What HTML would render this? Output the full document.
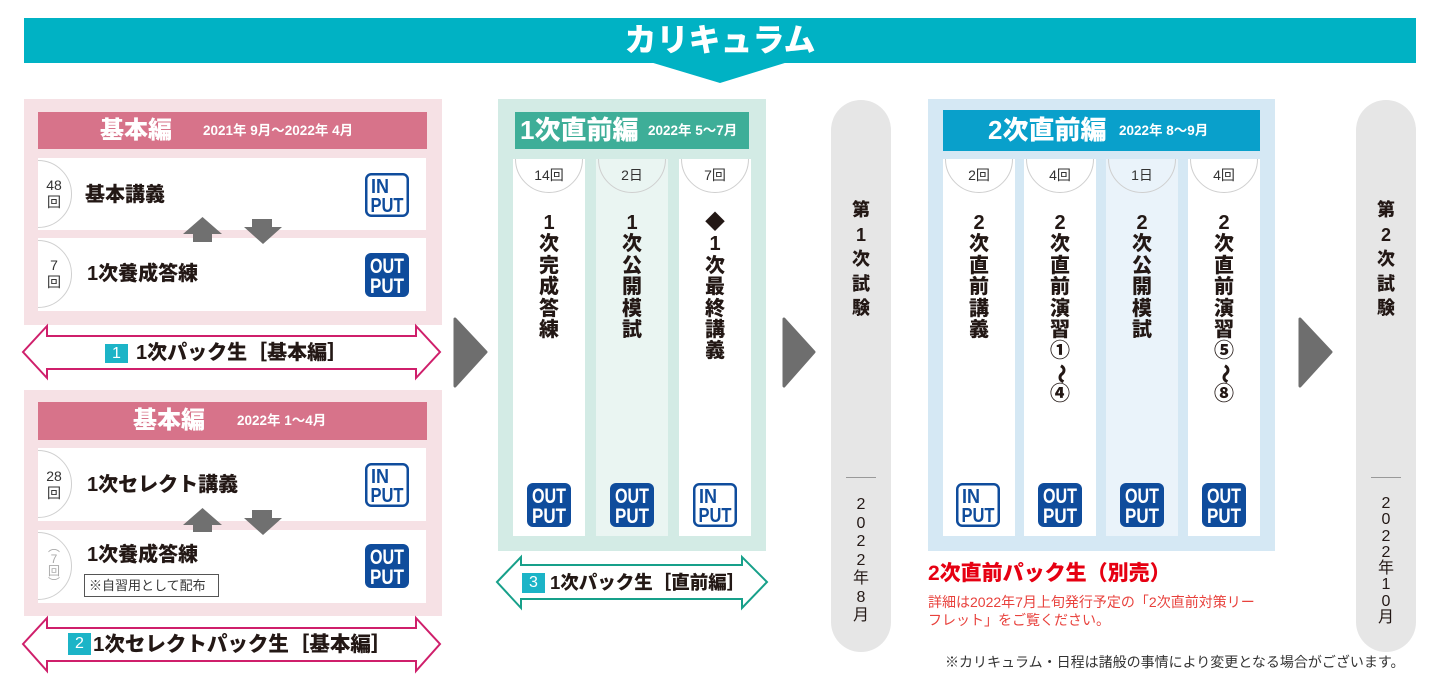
<!DOCTYPE html>
<html><head><meta charset="utf-8">
<style>
*{margin:0;padding:0;box-sizing:border-box}
body{width:1440px;height:694px;background:#fff;position:relative;overflow:hidden;font-family:"Liberation Sans","Noto Sans CJK JP",sans-serif;color:#231815}
.a{position:absolute}
.b{font-weight:900}
.row{position:absolute;background:#fff;overflow:hidden}
.circ{position:absolute;border:1px solid #cfcfcf;border-radius:50%;width:68px;height:68px}
.col{position:absolute;top:159px;width:72px;height:377px;background:#fff;overflow:hidden}
.col .circ{left:2px;top:-34px}
.cnt{position:absolute;top:166px;width:72px;text-align:center;font-size:14px;line-height:18px;color:#333}
.vt{position:absolute;top:213px;width:72px;text-align:center;font-size:20px;line-height:21.4px;font-weight:900;color:#231815}
.rot{display:inline-block;transform:rotate(90deg)}
.num{position:absolute;width:24px;text-align:center;font-size:14px;line-height:17px;color:#333}
.rt{position:absolute;font-size:20px;line-height:24px;font-weight:900}
.hd{position:absolute;color:#fff;font-weight:900;white-space:nowrap}
.sq{position:absolute;background:#1cb4c7;color:#fff;text-align:center;font-size:16px;font-weight:400}
.pill{position:absolute;top:100px;width:60px;height:552px;border-radius:30px;background:#e6e6e6}
.pt{position:absolute;width:60px;text-align:center}
</style></head><body>

<!-- banner -->
<div class="a" style="left:24px;top:18px;width:1392px;height:45px;background:#00b2c4"></div>
<div class="hd" style="left:520px;top:18px;width:400px;text-align:center;font-size:32px;line-height:45px">カリキュラム</div>

<!-- left box 1 -->
<div class="a" style="left:24px;top:99px;width:418px;height:226px;background:#f6e1e5"></div>
<div class="a" style="left:38px;top:112px;width:389px;height:37px;background:#d7738a"></div>
<div class="hd" style="left:100px;top:112px;font-size:24px;line-height:37px">基本編</div>
<div class="hd" style="left:203px;top:112px;font-size:13.5px;line-height:37px;font-weight:700">2021年 9月〜2022年 4月</div>
<div class="row" style="left:38px;top:158px;width:388px;height:72px"><div class="circ" style="left:-34px;top:2px"></div></div>
<div class="row" style="left:38px;top:238px;width:388px;height:73px"><div class="circ" style="left:-34px;top:2px"></div></div>
<div class="num" style="left:42px;top:177px">48<br>回</div>
<div class="num" style="left:42px;top:257px">7<br>回</div>
<div class="rt" style="left:85px;top:183px">基本講義</div>
<div class="rt" style="left:87px;top:262px">1次養成答練</div>

<!-- left box 2 -->
<div class="a" style="left:24px;top:390px;width:418px;height:226px;background:#f6e1e5"></div>
<div class="a" style="left:38px;top:402px;width:389px;height:38px;background:#d7738a"></div>
<div class="hd" style="left:133px;top:402px;font-size:24px;line-height:38px">基本編</div>
<div class="hd" style="left:237px;top:402px;font-size:13.5px;line-height:38px;font-weight:700">2022年 1〜4月</div>
<div class="row" style="left:38px;top:448px;width:388px;height:73px"><div class="circ" style="left:-34px;top:2px"></div></div>
<div class="row" style="left:38px;top:530px;width:388px;height:73px"><div class="circ" style="left:-34px;top:2px"></div></div>
<div class="num" style="left:42px;top:468px">28<br>回</div>
<div class="num" style="left:42px;top:541px;color:#aaa;font-size:12px;line-height:12px">︵<br>7<br>回<br>︶</div>
<div class="rt" style="left:87px;top:473px">1次セレクト講義</div>
<div class="rt" style="left:87px;top:543px">1次養成答練</div>
<div class="a" style="left:84px;top:574px;width:135px;height:23px;border:1px solid #555;font-size:13px;line-height:21px;padding-left:4px;color:#333;white-space:nowrap">※自習用として配布</div>

<!-- 1次直前編 -->
<div class="a" style="left:498px;top:99px;width:268px;height:452px;background:#d3ebe5"></div>
<div class="a" style="left:515px;top:112px;width:234px;height:37px;background:#3eae98"></div>
<div class="hd" style="left:520px;top:112px;font-size:26px;line-height:37px">1次直前編</div>
<div class="hd" style="left:648px;top:112px;font-size:13.5px;line-height:37px;font-weight:700">2022年 5〜7月</div>
<div class="col" style="left:513px"><div class="circ"></div></div>
<div class="col" style="left:596px;background:#eaf5f2"><div class="circ"></div></div>
<div class="col" style="left:679px"><div class="circ"></div></div>
<div class="cnt" style="left:513px">14回</div>
<div class="cnt" style="left:596px">2日</div>
<div class="cnt" style="left:679px">7回</div>
<div class="vt" style="left:513px">1<br>次<br>完<br>成<br>答<br>練</div>
<div class="vt" style="left:596px">1<br>次<br>公<br>開<br>模<br>試</div>
<div class="vt" style="left:679px">◆<br>1<br>次<br>最<br>終<br>講<br>義</div>

<!-- pills -->
<div class="pill" style="left:831px"></div>
<div class="pt b" style="left:831px;top:198px;font-size:18px;line-height:24.5px">第<br>1<br>次<br>試<br>験</div>
<div class="a" style="left:846px;top:477px;width:30px;height:1px;background:#999"></div>
<div class="pt" style="left:831px;top:496px;font-size:16px;line-height:18.5px;color:#231815">2<br>0<br>2<br>2<br>年<br>8<br>月</div>

<div class="pill" style="left:1356px"></div>
<div class="pt b" style="left:1356px;top:198px;font-size:18px;line-height:24.5px">第<br>2<br>次<br>試<br>験</div>
<div class="a" style="left:1371px;top:477px;width:30px;height:1px;background:#999"></div>
<div class="pt" style="left:1356px;top:496px;font-size:16px;line-height:16.3px;color:#231815">2<br>0<br>2<br>2<br>年<br>1<br>0<br>月</div>

<!-- 2次直前編 -->
<div class="a" style="left:928px;top:99px;width:347px;height:452px;background:#d5e8f4"></div>
<div class="a" style="left:943px;top:110px;width:317px;height:41px;background:#09a0cb"></div>
<div class="hd" style="left:988px;top:110px;font-size:26px;line-height:41px">2次直前編</div>
<div class="hd" style="left:1119px;top:110px;font-size:13.5px;line-height:41px;font-weight:700">2022年 8〜9月</div>
<div class="col" style="left:943px"><div class="circ"></div></div>
<div class="col" style="left:1024px"><div class="circ"></div></div>
<div class="col" style="left:1106px;background:#eaf3fa"><div class="circ"></div></div>
<div class="col" style="left:1188px"><div class="circ"></div></div>
<div class="cnt" style="left:943px">2回</div>
<div class="cnt" style="left:1024px">4回</div>
<div class="cnt" style="left:1106px">1日</div>
<div class="cnt" style="left:1188px">4回</div>
<div class="vt" style="left:943px">2<br>次<br>直<br>前<br>講<br>義</div>
<div class="vt" style="left:1024px">2<br>次<br>直<br>前<br>演<br>習<br>①<br><span class="rot">〜</span><br>④</div>
<div class="vt" style="left:1106px">2<br>次<br>公<br>開<br>模<br>試</div>
<div class="vt" style="left:1188px">2<br>次<br>直<br>前<br>演<br>習<br>⑤<br><span class="rot">〜</span><br>⑧</div>

<div class="a b" style="left:928px;top:563px;font-size:21px;line-height:22px;color:#e60012;white-space:nowrap">2次直前パック生（別売）</div>
<div class="a" style="left:928px;top:593px;font-size:14px;line-height:18px;color:#e8413c;white-space:nowrap">詳細は2022年7月上旬発行予定の「2次直前対策リー<br>フレット」をご覧ください。</div>
<div class="a" style="left:945px;top:654px;font-size:14px;line-height:16px;color:#333;white-space:nowrap">※カリキュラム・日程は諸般の事情により変更となる場合がございます。</div>

<!-- shapes -->
<svg class="a" style="left:0;top:0" width="1440" height="694" viewBox="0 0 1440 694">
<polygon points="650,62 788,62 720,83" fill="#00b2c4"/>
<g fill="#707070">
<polygon points="202.5,217 222,234 212,234 212,242 193,242 193,234 183,234"/>
<polygon points="252,219 272,219 272,227 282,227 263,244 244,227 252,227"/>
<polygon points="202.5,508 222,525 212,525 212,532 193,532 193,525 183,525"/>
<polygon points="252,510 272,510 272,518 282,518 263,535 244,518 252,518"/>
</g>
<g fill="#6e6e6e" stroke="#6e6e6e" stroke-width="3" stroke-linejoin="round">
<polygon points="455,319 486,352 455,386"/>
<polygon points="784,319 814,352 784,386"/>
<polygon points="1300,319 1331,352 1300,386"/>
</g>
<g fill="#fff" stroke-width="2" stroke-linejoin="miter">
<polygon stroke="#cf1f6b" points="23,352 47,326 47,336 416,336 416,326 440,352 416,378 416,369 47,369 47,378"/>
<polygon stroke="#cf1f6b" points="23,644 47,618 47,628 416,628 416,618 440,644 416,671 416,661 47,661 47,671"/>
<polygon stroke="#17a08a" points="497,582 521,557 521,565 742,565 742,557 767,582 742,608 742,599 521,599 521,608"/>
</g>
<defs>
<g id="out"><rect width="44" height="44" rx="6" fill="#0f4c9c"/><text x="22" y="20" text-anchor="middle" textLength="34" lengthAdjust="spacingAndGlyphs" font-family="Liberation Sans" font-size="21" font-weight="700" fill="#fff">OUT</text><text x="22" y="40" text-anchor="middle" textLength="34" lengthAdjust="spacingAndGlyphs" font-family="Liberation Sans" font-size="21" font-weight="700" fill="#fff">PUT</text></g>
<g id="in"><rect x="1.25" y="1.25" width="41.5" height="41.5" rx="5" fill="#fff" stroke="#0f4c9c" stroke-width="2.5"/><text x="6" y="20" textLength="18" lengthAdjust="spacingAndGlyphs" font-family="Liberation Sans" font-size="20" font-weight="700" fill="#0f4c9c">IN</text><text x="5.5" y="39" textLength="33" lengthAdjust="spacingAndGlyphs" font-family="Liberation Sans" font-size="20" font-weight="700" fill="#0f4c9c">PUT</text></g>
</defs>
<use href="#in" x="365" y="173"/>
<use href="#out" x="365" y="253"/>
<use href="#in" x="365" y="463"/>
<use href="#out" x="365" y="544"/>
<use href="#out" x="527" y="483"/>
<use href="#out" x="610" y="483"/>
<use href="#in" x="693" y="483"/>
<use href="#in" x="956" y="483"/>
<use href="#out" x="1038" y="483"/>
<use href="#out" x="1120" y="483"/>
<use href="#out" x="1202" y="483"/>
</svg>

<!-- double-arrow labels -->
<div class="sq" style="left:105px;top:344px;width:23px;height:19px;line-height:19px">1</div>
<div class="a b" style="left:136px;top:341px;font-size:20px;line-height:24px;white-space:nowrap">1次パック生［基本編］</div>
<div class="sq" style="left:68px;top:633px;width:23px;height:22px;line-height:22px">2</div>
<div class="a b" style="left:93px;top:633px;font-size:20.5px;line-height:24px;white-space:nowrap">1次セレクトパック生［基本編］</div>
<div class="sq" style="left:522px;top:573px;width:23px;height:20px;line-height:20px">3</div>
<div class="a b" style="left:550px;top:571px;font-size:18.5px;line-height:24px;white-space:nowrap">1次パック生［直前編］</div>

</body></html>
